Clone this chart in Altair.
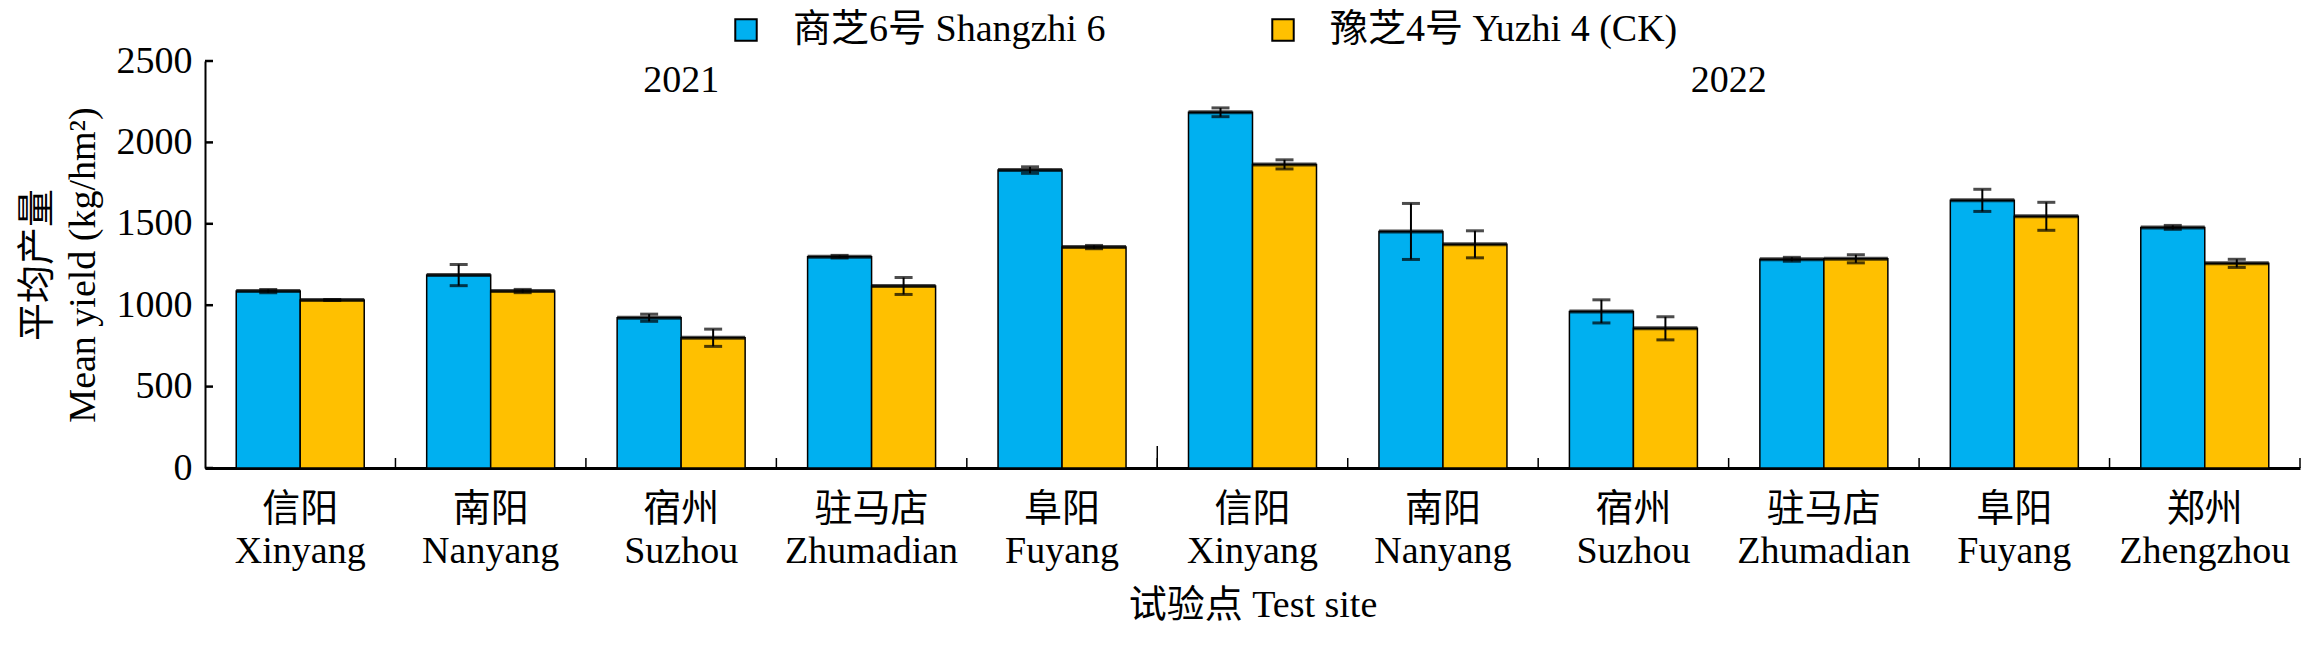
import altair as alt
import pandas as pd

sites_cn = ["信阳", "南阳", "宿州", "驻马店", "阜阳", "信阳", "南阳", "宿州", "驻马店", "阜阳", "郑州"]
sites_en = ["Xinyang", "Nanyang", "Suzhou", "Zhumadian", "Fuyang",
            "Xinyang", "Nanyang", "Suzhou", "Zhumadian", "Fuyang", "Zhengzhou"]
years = ["2021"] * 5 + ["2022"] * 6
sz6_mean = [1087, 1185, 923, 1298, 1830, 2185, 1453, 962, 1282, 1644, 1478]
sz6_err = [10, 65, 22, 8, 20, 27, 172, 71, 12, 68, 12]
yz4_mean = [1032, 1087, 800, 1118, 1357, 1865, 1374, 858, 1285, 1546, 1257]
yz4_err = [3, 10, 53, 52, 10, 28, 83, 71, 25, 86, 25]
varieties = ["商芝6号 Shangzhi 6", "豫芝4号 Yuzhi 4 (CK)"]
colors = ["#00B0F0", "#FFC000"]
y_ticks = [0, 500, 1000, 1500, 2000, 2500]

FONT = "Liberation Serif, Noto Sans CJK SC"
FS = 38
W, H = 2095, 407

keys = [f"{c}|{e}|{y}" for c, e, y in zip(sites_cn, sites_en, years)]
rows = []
for i, k in enumerate(keys):
    for v, m, e in ((varieties[0], sz6_mean[i], sz6_err[i]), (varieties[1], yz4_mean[i], yz4_err[i])):
        rows.append({"key": k, "variety": v, "mean": m, "lo": m - e, "hi": m + e})
df = pd.DataFrame(rows)

xscale = alt.Scale(domain=keys, paddingInner=0, paddingOuter=0)
xoff = alt.XOffset("variety:N", scale=alt.Scale(domain=varieties, paddingInner=0, paddingOuter=0.488))

x_axis = alt.Axis(
    labelExpr="[split(datum.label,'|')[0], split(datum.label,'|')[1]]",
    labelAngle=0, labelFontSize=FS, labelLineHeight=42, labelPadding=22,
    labelFont=FONT, labelColor="black", tickSize=0, domainWidth=3, domainColor="black",
    title="试验点 Test site", titleFont=FONT, titleFontSize=FS, titleFontWeight="normal",
    titleColor="black", titlePadding=16, grid=False,
)
y_axis = alt.Axis(
    values=y_ticks, format="d", tickSize=0, labelPadding=13, labelFontSize=FS, labelFont=FONT,
    labelColor="black", domainWidth=2, domainColor="black", grid=False,
    title=["平均产量", "Mean yield (kg/hm²)"], titleFont=FONT, titleFontSize=FS,
    titleFontWeight="normal", titleColor="black", titlePadding=14, titleLineHeight=46,
)

X = alt.X("key:N", scale=xscale, axis=x_axis)
Xn = alt.X("key:N", scale=xscale)
yscale = alt.Scale(domain=[0, 2500], nice=False)

base = alt.Chart(df)

bars = base.mark_bar(stroke="black", strokeWidth=1.5).encode(
    x=X,
    xOffset=xoff,
    y=alt.Y("mean:Q", scale=yscale, axis=y_axis),
    color=alt.Color("variety:N", scale=alt.Scale(domain=varieties, range=colors),
                    legend=alt.Legend(title=None, orient="none", legendX=522, legendY=-50,
                                      direction="horizontal", columns=2, columnPadding=158,
                                      symbolType="square", symbolSize=460,
                                      symbolStrokeColor="black", symbolStrokeWidth=2,
                                      labelFont=FONT, labelFontSize=FS, labelColor="black",
                                      labelOffset=28, labelLimit=1000)),
)

tops = base.mark_tick(color="black", thickness=4, size=64, orient="horizontal").encode(
    x=Xn, xOffset=xoff, y=alt.Y("mean:Q", scale=yscale))

err = base.mark_rule(color="black", strokeWidth=2).encode(
    x=Xn, xOffset=xoff, y=alt.Y("lo:Q", scale=yscale), y2="hi:Q")
cap_lo = base.mark_tick(color="black", thickness=3, size=18, orient="horizontal").encode(
    x=Xn, xOffset=xoff, y=alt.Y("lo:Q", scale=yscale))
cap_hi = base.mark_tick(color="black", thickness=3, size=18, orient="horizontal").encode(
    x=Xn, xOffset=xoff, y=alt.Y("hi:Q", scale=yscale))

yr1 = alt.Chart(pd.DataFrame({"key": [keys[2]], "t": ["2021"], "v": [2377]})).mark_text(
    font=FONT, fontSize=FS, color="black", baseline="middle").encode(
    x=Xn, y=alt.Y("v:Q", scale=yscale), text="t:N")
yr2 = alt.Chart(pd.DataFrame({"key": [keys[8]], "t": ["2022"], "v": [2377]})).mark_text(
    font=FONT, fontSize=FS, color="black", baseline="middle").encode(
    x=alt.X("key:N", scale=xscale, bandPosition=0),
    y=alt.Y("v:Q", scale=yscale), text="t:N")

ytick_layer = alt.Chart(pd.DataFrame({"v": y_ticks})).mark_rule(color="black", strokeWidth=2.5).encode(
    y=alt.Y("v:Q", scale=yscale), x=alt.value(0), x2=alt.value(8))

xt_df = pd.DataFrame({"key": keys})
xtick_layer = alt.Chart(xt_df).mark_rule(color="black", strokeWidth=1.5).encode(
    x=alt.X("key:N", scale=xscale, bandPosition=1),
    y=alt.value(H), y2=alt.value(H - 10))
sep_layer = alt.Chart(pd.DataFrame({"key": [keys[4]]})).mark_rule(color="black", strokeWidth=1.5).encode(
    x=alt.X("key:N", scale=xscale, bandPosition=1),
    y=alt.value(H), y2=alt.value(H - 22))

chart = alt.layer(bars, tops, err, cap_lo, cap_hi, yr1, yr2, ytick_layer, xtick_layer, sep_layer).properties(
    width=W, height=H,
    autosize=alt.AutoSizeParams(type="none"),
    padding={"left": 197, "top": 53, "right": 3, "bottom": 160},
).configure(font=FONT).configure_view(stroke=None)

chart.save("out.html", embed_options={"renderer": "svg", "actions": False})
